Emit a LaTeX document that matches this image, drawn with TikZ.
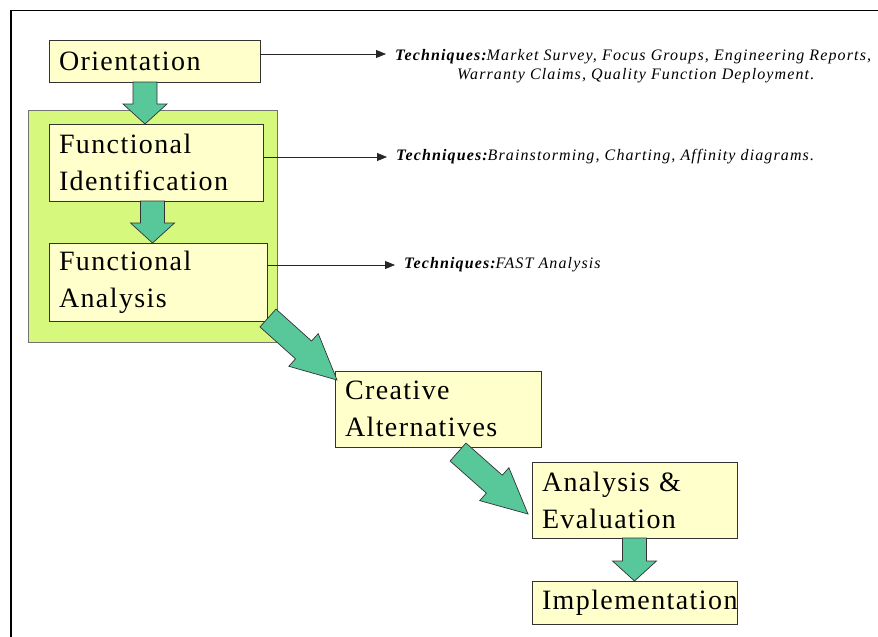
\documentclass[tikz,border=0pt]{standalone}
\usepackage{fontspec}
\setmainfont{Liberation Serif}
\newfontfamily\stagefont[LetterSpace=5]{Liberation Serif}
\newfontfamily\techfont[LetterSpace=7]{Liberation Serif}
\usepackage{tikz}
\usetikzlibrary{
    arrows.meta,
    calc
}
\definecolor{paleyellow}{RGB}{255,255,204}
\definecolor{limegreen}{RGB}{214,248,124}
\definecolor{seagreen}{RGB}{88,199,153}
\tikzstyle{stage} = [
    draw=black!80,
    fill=paleyellow,
    line width=0.8pt,
    inner xsep=10pt,
    inner ysep=0pt,
    outer sep=0pt,
    align=left,
    font=\stagefont\fontsize{28}{37}\selectfont
]
\tikzstyle{phase} = [
    draw=black!55,
    fill=limegreen,
    line width=0.8pt,
    inner sep=0pt,
    outer sep=0pt
]
\tikzstyle{blockarrow} = [
    fill=seagreen,
    draw=black!80,
    line width=0.7pt,
    line join=miter
]
\tikzstyle{thinarrow} = [
    -{Triangle[length=10pt,width=8pt]},
    draw=black!85,
    line width=0.8pt
]
\tikzstyle{technique} = [
    inner xsep=9pt,
    inner ysep=0pt,
    align=left,
    font=\techfont\itshape\fontsize{16}{19}\selectfont
]
% fat arrow from #2 to #3, head length #1
\newcommand{\fatarrow}[3][20pt]{%
    \coordinate (ah) at ($(#3)!#1!(#2)$);
    \draw[blockarrow]
        ($(#2)!12pt!90:(#3)$) -- ($(ah)!12pt!90:(#3)$) -- ($(ah)!22pt!90:(#3)$)
        -- (#3) -- ($(ah)!22pt!-90:(#3)$) -- ($(ah)!12pt!-90:(#3)$)
        -- ($(#2)!12pt!-90:(#3)$) -- cycle;
}

\begin{document}
\begin{tikzpicture}[x=1pt, y=-1pt]
    \useasboundingbox (0,0) rectangle (878,637);

    % Frame
    \draw[line width=1.5pt] (11,645) -- (11,10.5) -- (885,10.5);

    % Function phase
    \node[phase, minimum width=249pt, minimum height=232pt] (grp) at (152.5,226) {};

    % Stages
    \node[stage, text width=191pt, minimum height=42pt] (or) at (154.5,61) {Orientation};
    \node[stage, text width=194pt, minimum height=77pt] (fi) at (156,162.5) {Functional\\Identification};
    \node[stage, text width=198pt, minimum height=78pt] (fa) at (158,282) {Functional\\Analysis};
    \node[stage, text width=186pt, minimum height=76pt] (ca) at (438,409) {Creative\\Alternatives};
    \node[stage, text width=185pt, minimum height=76pt] (ae) at (634.5,500) {Analysis \&\\Evaluation};
    \node[stage, text width=185pt, minimum height=43pt] (im) at (634.5,602.5) {Implementation};

    % Techniques
    \node[technique, anchor=north west] (t1) at (386,49)
        {\textbf{Techniques:}Market Survey, Focus Groups, Engineering Reports,\\
        \hspace*{62pt}Warranty Claims, Quality Function Deployment.};
    \node[technique, anchor=west] (t2) at (387,157)
        {\textbf{Techniques:}Brainstorming, Charting, Affinity diagrams.};
    \node[technique, anchor=west] (t3) at (395,265)
        {\textbf{Techniques:}FAST Analysis};

    \coordinate (or-out) at ([yshift=7pt]or.east);
    \coordinate (fi-out) at ([yshift=5.5pt]fi.east);
    \coordinate (fa-out) at ([yshift=17pt]fa.east);
    \draw[thinarrow] (or-out) -- (or-out -| t1.west);
    \draw[thinarrow] (fi-out) -- (fi-out -| t2.west);
    \draw[thinarrow] (fa-out) -- (fa-out -| t3.west);

    % Flow
    \coordinate (o-down) at ([xshift=-9.5pt]or.south);
    \coordinate (fi-in) at (fi.north -| o-down);
    \coordinate (fi-down) at ([xshift=-3.5pt]fi.south);
    \coordinate (fa-in) at (fa.north -| fi-down);
    \coordinate (fa-down) at ([xshift=1pt,yshift=3pt]fa.south east);
    \coordinate (ca-in) at ([xshift=2pt,yshift=-9pt]ca.north west);
    \coordinate (ca-down) at ([xshift=20pt,yshift=-5pt]ca.south);
    \coordinate (ae-in) at ([xshift=-4pt,yshift=-14pt]ae.west);
    \fatarrow{o-down}{fi-in}
    \fatarrow{fi-down}{fa-in}
    \fatarrow[45pt]{fa-down}{ca-in}
    \fatarrow[45pt]{ca-down}{ae-in}
    \fatarrow{ae.south}{im.north}
\end{tikzpicture}
\end{document}
